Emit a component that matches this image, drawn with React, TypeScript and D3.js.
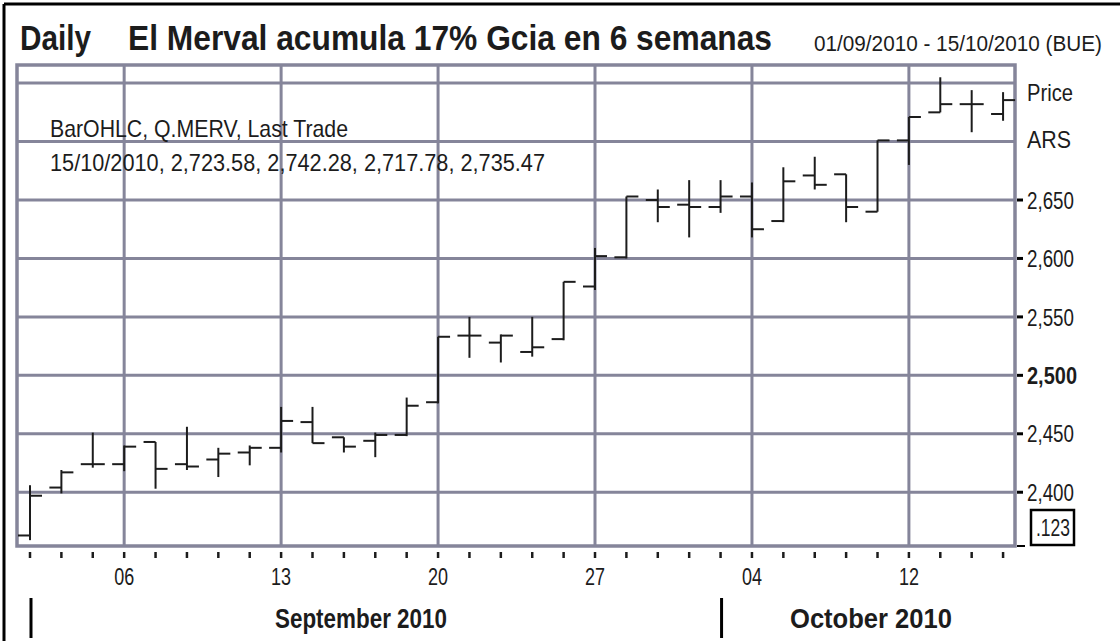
import * as d3 from 'd3'

// Q.MERV daily bars, 01/09/2010 - 15/10/2010 (Oct 11 holiday)
const DATES = [
  '2010-09-01', '2010-09-02', '2010-09-03',
  '2010-09-06', '2010-09-07', '2010-09-08', '2010-09-09', '2010-09-10',
  '2010-09-13', '2010-09-14', '2010-09-15', '2010-09-16', '2010-09-17',
  '2010-09-20', '2010-09-21', '2010-09-22', '2010-09-23', '2010-09-24',
  '2010-09-27', '2010-09-28', '2010-09-29', '2010-09-30', '2010-10-01',
  '2010-10-04', '2010-10-05', '2010-10-06', '2010-10-07', '2010-10-08',
  '2010-10-12', '2010-10-13', '2010-10-14', '2010-10-15',
]
const OPEN = [
  2363, 2404, 2424, 2424, 2443, 2424, 2428, 2434,
  2438, 2460, 2447, 2444, 2449, 2477, 2534, 2528, 2520, 2531,
  2576, 2601, 2650, 2646, 2644, 2653, 2632, 2671, 2672, 2640,
  2701, 2725, 2732, 2723.58,
]
const HIGH = [
  2406, 2419, 2451, 2440, 2443, 2456, 2438, 2440,
  2473, 2473, 2447, 2451, 2481, 2533, 2550, 2535, 2550, 2580,
  2609, 2653, 2659, 2667, 2667, 2665, 2678, 2687, 2672, 2701,
  2721, 2755, 2744, 2742.28,
]
const LOW = [
  2359, 2399, 2421, 2418, 2403, 2419, 2413, 2423,
  2434, 2442, 2434, 2430, 2448, 2476, 2515, 2511, 2516, 2530,
  2573, 2600, 2631, 2618, 2639, 2618, 2631, 2659, 2631, 2640,
  2680, 2725, 2708, 2717.78,
]
const CLOSE = [
  2397, 2417, 2424, 2439, 2420, 2422, 2433, 2438,
  2461, 2442, 2439, 2449, 2474, 2533, 2534, 2534, 2524, 2580,
  2602, 2653, 2644, 2644, 2653, 2625, 2666, 2663, 2644, 2701,
  2721, 2732, 2732, 2735.47,
]
const PRICE_TICKS = [2400, 2450, 2500, 2550, 2600, 2650]
const GRID_PRICES = [2400, 2450, 2500, 2550, 2600, 2650, 2700, 2750]
const WEEK_LABELS = ['06', '13', '20', '27', '04', '12']
const WEEK_DATES = ['2010-09-06', '2010-09-13', '2010-09-20', '2010-09-27', '2010-10-04', '2010-10-12']
const MONTHS = [
  { label: 'September 2010', start: '2010-09-01', center: 361, width: 172 },
  { label: 'October 2010', start: '2010-10-01', center: 871, width: 162 },
]

const FONT = '"Liberation Sans Narrow", "Arial Narrow", "Liberation Sans", Arial, sans-serif'
const GRID = '#85859a'
const INK = '#1c1c1c'

// narrow-looking text: fixed width, glyphs squeezed
function NText(props: any) {
  const { w, children, ...rest } = props
  return (
    <text {...rest} textLength={w} lengthAdjust="spacingAndGlyphs">{children}</text>
  )
}

export default function App() {
  const W = 1120
  const H = 641
  const plot = { left: 17, right: 1015, top: 65, bottom: 546 }

  const x = d3.scaleLinear().domain([-0.414, 31.38]).range([plot.left, plot.right])
  const y = d3.scaleLinear().domain([2354, 2765.5]).range([plot.bottom, plot.top])
  const idx = (d: string) => DATES.indexOf(d)
  const fmt = d3.format(',')
  const tick = 12

  return (
    <div style={{ position: 'absolute', left: 0, top: 0 }}>
      <svg width={W} height={H} style={{ display: 'block', background: '#fff' }} fontFamily={FONT}>
        {/* outer frame */}
        <line x1={4} x2={W} y1={4} y2={4} stroke="#000" strokeWidth={3} />
        <line x1={4} x2={4} y1={4} y2={H} stroke="#000" strokeWidth={3} />

        {/* title */}
        <NText x={20} y={50} fontSize={35} fontWeight="bold" fill={INK} w={71}>Daily</NText>
        <NText x={128} y={50} fontSize={35} fontWeight="bold" fill={INK} w={644}>
          El Merval acumula 17%  Gcia en 6 semanas
        </NText>
        <NText x={814} y={51} fontSize={22} fill={INK} w={288}>01/09/2010 - 15/10/2010 (BUE)</NText>

        {/* grid */}
        {GRID_PRICES.map((p) => (
          <line key={'h' + p} x1={plot.left} x2={plot.right} y1={y(p)} y2={y(p)} stroke={GRID} strokeWidth={3} />
        ))}
        {WEEK_DATES.map((d) => (
          <line key={'v' + d} x1={x(idx(d))} x2={x(idx(d))} y1={plot.top} y2={plot.bottom} stroke={GRID} strokeWidth={3} />
        ))}
        <rect x={plot.left} y={plot.top} width={plot.right - plot.left} height={plot.bottom - plot.top}
          fill="none" stroke={GRID} strokeWidth={3.5} />

        {/* legend */}
        <NText x={50} y={137} fontSize={24} fill={INK} w={298}>BarOHLC, Q.MERV, Last Trade</NText>
        <NText x={50} y={171} fontSize={24} fill={INK} w={495}>
          15/10/2010, 2,723.58, 2,742.28, 2,717.78, 2,735.47
        </NText>

        {/* OHLC bars */}
        {DATES.map((d, i) => {
          const cx = x(i)
          return (
            <g key={d} stroke={INK} strokeWidth={2}>
              <line x1={cx} x2={cx} y1={y(HIGH[i])} y2={y(LOW[i])} />
              <line x1={cx - tick} x2={cx} y1={y(OPEN[i])} y2={y(OPEN[i])} />
              <line x1={cx} x2={cx + tick} y1={y(CLOSE[i])} y2={y(CLOSE[i])} />
            </g>
          )
        })}

        {/* right axis */}
        {PRICE_TICKS.map((p) => (
          <g key={'t' + p}>
            <line x1={plot.right + 2} x2={plot.right + 8} y1={y(p)} y2={y(p)} stroke="#000" strokeWidth={3} />
            <NText x={1027} y={y(p)} dy="0.36em" fontSize={24} fill={INK} w={p === 2500 ? 50 : 47}
              fontWeight={p === 2500 ? 'bold' : 'normal'}>{fmt(p)}</NText>
          </g>
        ))}
        <line x1={plot.right + 2} x2={plot.right + 10} y1={plot.bottom} y2={plot.bottom} stroke="#000" strokeWidth={2} />
        <NText x={1027} y={y(2750) + 9} dy="0.36em" fontSize={24} fill={INK} w={46}>Price</NText>
        <NText x={1027} y={y(2700) - 2} dy="0.36em" fontSize={24} fill={INK} w={44}>ARS</NText>
        <rect x={1031} y={510} width={43} height={35} fill="#fff" stroke="#000" strokeWidth={2.5} />
        <NText x={1036} y={528} dy="0.36em" fontSize={23} fill={INK} w={34}>.123</NText>

        {/* bottom axis */}
        {DATES.map((d, i) => (
          <line key={'bt' + d} x1={x(i)} x2={x(i)} y1={552} y2={558} stroke={INK} strokeWidth={2.5} />
        ))}
        {WEEK_DATES.map((d, i) => (
          <NText key={'wl' + d} x={x(idx(d)) - 10} y={585} fontSize={24} fill={INK} w={20}>
            {WEEK_LABELS[i]}
          </NText>
        ))}
        {MONTHS.map((m) => (
          <g key={m.label}>
            <line x1={x(idx(m.start)) + 1} x2={x(idx(m.start)) + 1} y1={598} y2={638} stroke="#000" strokeWidth={3} />
            <NText x={m.center - m.width / 2} y={628} fontSize={27} fontWeight="bold" fill={INK} w={m.width}>
              {m.label}
            </NText>
          </g>
        ))}
      </svg>
    </div>
  )
}
